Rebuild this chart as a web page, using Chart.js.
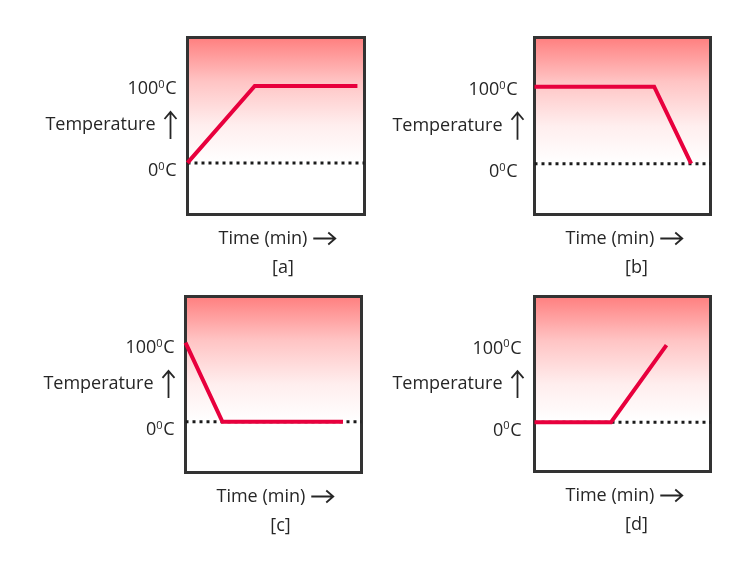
<!DOCTYPE html>
<html>
<head>
<meta charset="utf-8">
<script src="https://cdn.jsdelivr.net/npm/chart.js@4.4.1/dist/chart.umd.min.js"></script>
<style>
  html,body{margin:0;padding:0;background:#fff;}
  #wrap{position:relative;width:754px;height:563px;overflow:hidden;}
  canvas{position:absolute;}
</style>
</head>
<body>
<div id="wrap">
  <canvas id="ca" width="377" height="282" style="left:0;top:0"></canvas>
  <canvas id="cb" width="377" height="282" style="left:377px;top:0"></canvas>
  <canvas id="cc" width="377" height="282" style="left:0;top:282px"></canvas>
  <canvas id="cd" width="377" height="282" style="left:377px;top:282px"></canvas>
</div>
<script>
// ---- data ----
const captions = ['[a]', '[b]', '[c]', '[d]'];
const timeA = [0, 38, 96];   const tempA = [0, 100, 100];
const timeB = [0, 68, 89];   const tempB = [100, 100, 0];
const timeC = [0, 21, 89.5]; const tempC = [103, 0, 0];
const timeD = [0, 43.5, 75]; const tempD = [0, 0, 100];
const yTickValues = [0, 100];
const yTickLabels = ['0', '100'];
const degreeMark = '0';
const unitLabel = 'C';
const yTitle = 'Temperature';
const xTitle = 'Time (min)';

// ---- layout (not data) ----
const panels = [
  {id:'ca', t:timeA, v:tempA, pad:{left:187.5,right:12.5,top:37.5,bottom:67.5}, ymin:-67, ymax:163, gap:11},
  {id:'cb', t:timeB, v:tempB, pad:{left:157.5,right:43.5,top:37.5,bottom:67.5}, ymin:-66, ymax:164, gap:17},
  {id:'cc', t:timeC, v:tempC, pad:{left:185.5,right:15.5,top:14.5,bottom:91.5}, ymin:-66, ymax:163, gap:11},
  {id:'cd', t:timeD, v:tempD, pad:{left:157.5,right:43.5,top:14.5,bottom:92.5}, ymin:-64, ymax:163, gap:13}
];
const FONT = '"Open Sans", "Noto Sans", sans-serif';
const FS = 18;
const TXT = '#262626';

function drawDegLabel(ctx, num, right, cy) {
  ctx.textBaseline = 'alphabetic';
  ctx.textAlign = 'left';
  ctx.font = FS + 'px ' + FONT;
  const w1 = ctx.measureText(num).width;
  const w3 = ctx.measureText(unitLabel).width;
  ctx.font = '11px ' + FONT;
  const w2 = ctx.measureText(degreeMark).width;
  let x = right - (w1 + w2 + w3 + 0.5);
  const base = cy + 6.5;
  ctx.font = FS + 'px ' + FONT;
  ctx.fillText(num, x, base);
  x += w1;
  ctx.font = '11px ' + FONT;
  ctx.fillText(degreeMark, x, base - 6.5);
  x += w2 + 0.5;
  ctx.font = FS + 'px ' + FONT;
  ctx.fillText(unitLabel, x, base);
}

function makeChart(p, idx) {
  const decor = {
    id: 'decor' + idx,
    beforeDatasetsDraw(chart) {
      const {ctx, chartArea: a, scales} = chart;
      const y0 = scales.y.getPixelForValue(0);
      ctx.save();
      const g = ctx.createLinearGradient(0, a.top, 0, y0);
      g.addColorStop(0, '#ff7f7f');
      g.addColorStop(0.35, '#ffc4c4');
      g.addColorStop(0.7, '#ffeeee');
      g.addColorStop(1, '#ffffff');
      ctx.fillStyle = g;
      ctx.fillRect(a.left, a.top, a.right - a.left, y0 - a.top);
      ctx.lineWidth = 3;
      ctx.strokeStyle = '#333333';
      ctx.strokeRect(a.left, a.top, a.right - a.left, a.bottom - a.top);
      ctx.restore();
    },
    afterDraw(chart) {
      const {ctx, chartArea: a, scales} = chart;
      const y100 = scales.y.getPixelForValue(100);
      ctx.save();
      ctx.fillStyle = TXT;
      ctx.strokeStyle = TXT;
      yTickValues.forEach((val, i) => {
        const py = scales.y.getPixelForValue(val) + (val === 0 ? 7 : 2);
        drawDegLabel(ctx, yTickLabels[i], a.left - p.gap, py);
      });
      const ay = y100 + 39;
      ctx.font = FS + 'px ' + FONT;
      ctx.textAlign = 'right';
      ctx.textBaseline = 'middle';
      ctx.fillText(yTitle, a.left - 32, ay);
      const ax = a.left - 17;
      ctx.lineWidth = 1.8;
      ctx.beginPath();
      ctx.moveTo(ax, ay - 13); ctx.lineTo(ax, ay + 14);
      ctx.moveTo(ax - 6, ay - 6); ctx.lineTo(ax, ay - 13); ctx.lineTo(ax + 6, ay - 6);
      ctx.stroke();
      const ty = a.bottom + 24;
      ctx.textAlign = 'left';
      ctx.fillText(xTitle, a.left + 31, ty);
      const tw = ctx.measureText(xTitle).width;
      const x1 = a.left + 31 + tw + 6, x2 = x1 + 22;
      ctx.beginPath();
      ctx.moveTo(x1, ty); ctx.lineTo(x2, ty);
      ctx.moveTo(x2 - 7, ty - 6); ctx.lineTo(x2, ty); ctx.lineTo(x2 - 7, ty + 6);
      ctx.stroke();
      ctx.textAlign = 'center';
      ctx.fillText(captions[idx], (a.left + a.right) / 2 + (idx % 2 ? 14 : 7), a.bottom + 53);
      ctx.restore();
    }
  };
  return new Chart(document.getElementById(p.id), {
    type: 'line',
    data: {
      datasets: [
        {
          data: p.t.map((t, i) => ({x: t, y: p.v[i]})),
          borderColor: '#e8003d',
          borderWidth: 4,
          pointRadius: 0,
          tension: 0,
          fill: false,
          clip: false,
          order: 0
        },
        {
          data: [{x: 0, y: 0}, {x: 100, y: 0}],
          borderColor: '#1a1a1a',
          borderWidth: 3,
          borderDash: [3, 4],
          pointRadius: 0,
          fill: false,
          order: 1
        }
      ]
    },
    options: {
      responsive: false,
      animation: false,
      devicePixelRatio: 1,
      layout: {padding: p.pad},
      plugins: {legend: {display: false}, tooltip: {enabled: false}},
      scales: {
        x: {type: 'linear', min: 0, max: 100, display: false, offset: false},
        y: {type: 'linear', min: p.ymin, max: p.ymax, display: false}
      }
    },
    plugins: [decor]
  });
}

function go() { panels.forEach((p, i) => makeChart(p, i)); }
if (document.fonts && document.fonts.load) {
  Promise.all([document.fonts.load('18px "Open Sans"'), document.fonts.load('11px "Open Sans"')]).then(go, go);
} else { go(); }
</script>
</body>
</html>
